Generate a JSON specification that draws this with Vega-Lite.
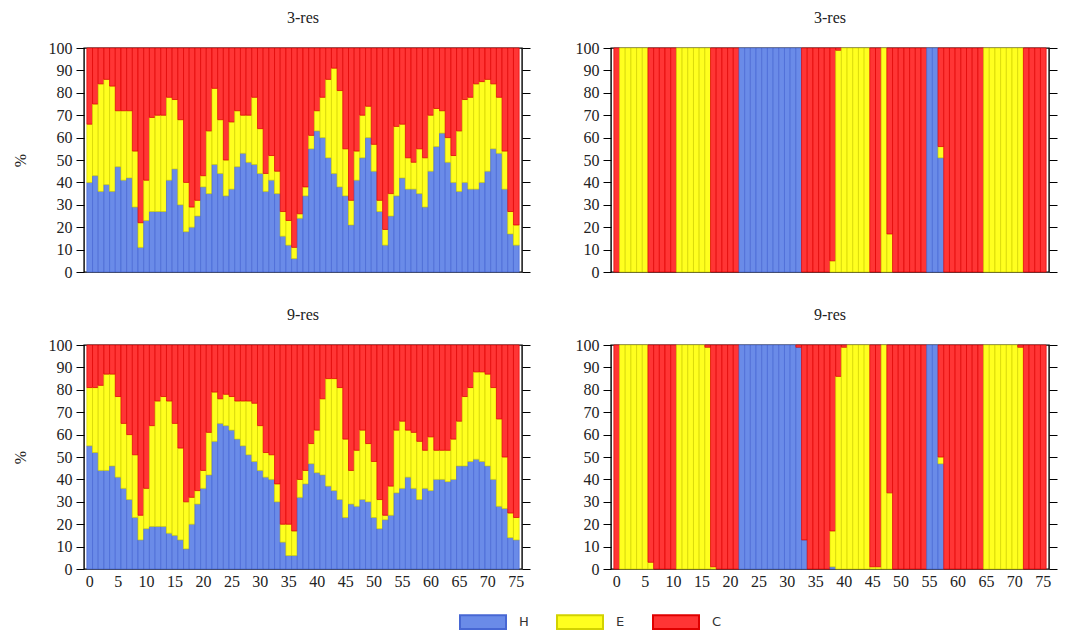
{
"$schema": "https://vega.github.io/schema/vega-lite/v6.json",
"background": "white",
"padding": {"left": 11, "top": 9, "right": 5, "bottom": 5},
"datasets": {"d": [
{"p":"TL","i":0,"H":40,"E":26,"C":34},{"p":"TL","i":1,"H":43,"E":32,"C":25},{"p":"TL","i":2,"H":36,"E":48,"C":16},{"p":"TL","i":3,"H":39,"E":47,"C":14},{"p":"TL","i":4,"H":36,"E":47,"C":17},{"p":"TL","i":5,"H":47,"E":25,"C":28},{"p":"TL","i":6,"H":41,"E":31,"C":28},{"p":"TL","i":7,"H":42,"E":30,"C":28},{"p":"TL","i":8,"H":29,"E":25,"C":46},{"p":"TL","i":9,"H":11,"E":11,"C":78},
{"p":"TL","i":10,"H":23,"E":18,"C":59},{"p":"TL","i":11,"H":27,"E":42,"C":31},{"p":"TL","i":12,"H":27,"E":43,"C":30},{"p":"TL","i":13,"H":27,"E":43,"C":30},{"p":"TL","i":14,"H":41,"E":37,"C":22},{"p":"TL","i":15,"H":46,"E":31,"C":23},{"p":"TL","i":16,"H":30,"E":38,"C":32},{"p":"TL","i":17,"H":18,"E":22,"C":60},{"p":"TL","i":18,"H":20,"E":9,"C":71},{"p":"TL","i":19,"H":25,"E":7,"C":68},
{"p":"TL","i":20,"H":38,"E":5,"C":57},{"p":"TL","i":21,"H":35,"E":28,"C":37},{"p":"TL","i":22,"H":48,"E":34,"C":18},{"p":"TL","i":23,"H":44,"E":24,"C":32},{"p":"TL","i":24,"H":34,"E":16,"C":50},{"p":"TL","i":25,"H":37,"E":30,"C":33},{"p":"TL","i":26,"H":47,"E":25,"C":28},{"p":"TL","i":27,"H":53,"E":17,"C":30},{"p":"TL","i":28,"H":49,"E":21,"C":30},{"p":"TL","i":29,"H":48,"E":30,"C":22},
{"p":"TL","i":30,"H":44,"E":20,"C":36},{"p":"TL","i":31,"H":36,"E":8,"C":56},{"p":"TL","i":32,"H":41,"E":11,"C":48},{"p":"TL","i":33,"H":35,"E":10,"C":55},{"p":"TL","i":34,"H":16,"E":11,"C":73},{"p":"TL","i":35,"H":12,"E":11,"C":77},{"p":"TL","i":36,"H":6,"E":5,"C":89},{"p":"TL","i":37,"H":24,"E":2,"C":74},{"p":"TL","i":38,"H":34,"E":4,"C":62},{"p":"TL","i":39,"H":55,"E":6,"C":39},
{"p":"TL","i":40,"H":63,"E":9,"C":28},{"p":"TL","i":41,"H":60,"E":18,"C":22},{"p":"TL","i":42,"H":51,"E":35,"C":14},{"p":"TL","i":43,"H":44,"E":47,"C":9},{"p":"TL","i":44,"H":38,"E":43,"C":19},{"p":"TL","i":45,"H":34,"E":21,"C":45},{"p":"TL","i":46,"H":21,"E":11,"C":68},{"p":"TL","i":47,"H":41,"E":13,"C":46},{"p":"TL","i":48,"H":51,"E":19,"C":30},{"p":"TL","i":49,"H":60,"E":14,"C":26},
{"p":"TL","i":50,"H":45,"E":12,"C":43},{"p":"TL","i":51,"H":27,"E":5,"C":68},{"p":"TL","i":52,"H":12,"E":7,"C":81},{"p":"TL","i":53,"H":25,"E":10,"C":65},{"p":"TL","i":54,"H":34,"E":31,"C":35},{"p":"TL","i":55,"H":42,"E":24,"C":34},{"p":"TL","i":56,"H":37,"E":14,"C":49},{"p":"TL","i":57,"H":37,"E":12,"C":51},{"p":"TL","i":58,"H":35,"E":20,"C":45},{"p":"TL","i":59,"H":29,"E":22,"C":49},
{"p":"TL","i":60,"H":45,"E":25,"C":30},{"p":"TL","i":61,"H":56,"E":17,"C":27},{"p":"TL","i":62,"H":62,"E":10,"C":28},{"p":"TL","i":63,"H":49,"E":11,"C":40},{"p":"TL","i":64,"H":40,"E":12,"C":48},{"p":"TL","i":65,"H":36,"E":27,"C":37},{"p":"TL","i":66,"H":40,"E":37,"C":23},{"p":"TL","i":67,"H":37,"E":41,"C":22},{"p":"TL","i":68,"H":37,"E":47,"C":16},{"p":"TL","i":69,"H":40,"E":45,"C":15},
{"p":"TL","i":70,"H":45,"E":41,"C":14},{"p":"TL","i":71,"H":55,"E":29,"C":16},{"p":"TL","i":72,"H":53,"E":25,"C":22},{"p":"TL","i":73,"H":37,"E":17,"C":46},{"p":"TL","i":74,"H":17,"E":10,"C":73},{"p":"TL","i":75,"H":12,"E":9,"C":79},
{"p":"BL","i":0,"H":55,"E":26,"C":19},{"p":"BL","i":1,"H":52,"E":29,"C":19},{"p":"BL","i":2,"H":44,"E":38,"C":18},{"p":"BL","i":3,"H":44,"E":43,"C":13},{"p":"BL","i":4,"H":46,"E":41,"C":13},{"p":"BL","i":5,"H":41,"E":36,"C":23},{"p":"BL","i":6,"H":36,"E":29,"C":35},{"p":"BL","i":7,"H":31,"E":29,"C":40},{"p":"BL","i":8,"H":23,"E":28,"C":49},{"p":"BL","i":9,"H":13,"E":11,"C":76},
{"p":"BL","i":10,"H":18,"E":18,"C":64},{"p":"BL","i":11,"H":19,"E":45,"C":36},{"p":"BL","i":12,"H":19,"E":56,"C":25},{"p":"BL","i":13,"H":19,"E":58,"C":23},{"p":"BL","i":14,"H":16,"E":59,"C":25},{"p":"BL","i":15,"H":15,"E":50,"C":35},{"p":"BL","i":16,"H":13,"E":41,"C":46},{"p":"BL","i":17,"H":9,"E":21,"C":70},{"p":"BL","i":18,"H":20,"E":12,"C":68},{"p":"BL","i":19,"H":29,"E":6,"C":65},
{"p":"BL","i":20,"H":36,"E":8,"C":56},{"p":"BL","i":21,"H":42,"E":19,"C":39},{"p":"BL","i":22,"H":57,"E":22,"C":21},{"p":"BL","i":23,"H":65,"E":11,"C":24},{"p":"BL","i":24,"H":64,"E":14,"C":22},{"p":"BL","i":25,"H":62,"E":15,"C":23},{"p":"BL","i":26,"H":58,"E":17,"C":25},{"p":"BL","i":27,"H":55,"E":20,"C":25},{"p":"BL","i":28,"H":51,"E":24,"C":25},{"p":"BL","i":29,"H":48,"E":26,"C":26},
{"p":"BL","i":30,"H":44,"E":20,"C":36},{"p":"BL","i":31,"H":41,"E":11,"C":48},{"p":"BL","i":32,"H":40,"E":11,"C":49},{"p":"BL","i":33,"H":30,"E":8,"C":62},{"p":"BL","i":34,"H":12,"E":8,"C":80},{"p":"BL","i":35,"H":6,"E":14,"C":80},{"p":"BL","i":36,"H":6,"E":11,"C":83},{"p":"BL","i":37,"H":32,"E":8,"C":60},{"p":"BL","i":38,"H":38,"E":6,"C":56},{"p":"BL","i":39,"H":47,"E":9,"C":44},
{"p":"BL","i":40,"H":43,"E":19,"C":38},{"p":"BL","i":41,"H":42,"E":34,"C":24},{"p":"BL","i":42,"H":37,"E":48,"C":15},{"p":"BL","i":43,"H":35,"E":50,"C":15},{"p":"BL","i":44,"H":31,"E":50,"C":19},{"p":"BL","i":45,"H":23,"E":35,"C":42},{"p":"BL","i":46,"H":29,"E":15,"C":56},{"p":"BL","i":47,"H":28,"E":25,"C":47},{"p":"BL","i":48,"H":31,"E":31,"C":38},{"p":"BL","i":49,"H":30,"E":26,"C":44},
{"p":"BL","i":50,"H":23,"E":25,"C":52},{"p":"BL","i":51,"H":18,"E":13,"C":69},{"p":"BL","i":52,"H":22,"E":2,"C":76},{"p":"BL","i":53,"H":24,"E":13,"C":63},{"p":"BL","i":54,"H":34,"E":28,"C":38},{"p":"BL","i":55,"H":36,"E":30,"C":34},{"p":"BL","i":56,"H":41,"E":21,"C":38},{"p":"BL","i":57,"H":36,"E":25,"C":39},{"p":"BL","i":58,"H":31,"E":26,"C":43},{"p":"BL","i":59,"H":36,"E":17,"C":47},
{"p":"BL","i":60,"H":35,"E":24,"C":41},{"p":"BL","i":61,"H":40,"E":13,"C":47},{"p":"BL","i":62,"H":40,"E":13,"C":47},{"p":"BL","i":63,"H":39,"E":14,"C":47},{"p":"BL","i":64,"H":40,"E":18,"C":42},{"p":"BL","i":65,"H":46,"E":20,"C":34},{"p":"BL","i":66,"H":46,"E":31,"C":23},{"p":"BL","i":67,"H":48,"E":33,"C":19},{"p":"BL","i":68,"H":49,"E":39,"C":12},{"p":"BL","i":69,"H":48,"E":40,"C":12},
{"p":"BL","i":70,"H":46,"E":41,"C":13},{"p":"BL","i":71,"H":40,"E":41,"C":19},{"p":"BL","i":72,"H":28,"E":39,"C":33},{"p":"BL","i":73,"H":27,"E":23,"C":50},{"p":"BL","i":74,"H":14,"E":11,"C":75},{"p":"BL","i":75,"H":13,"E":10,"C":77},
{"p":"TR","i":0,"H":0,"E":0,"C":100},{"p":"TR","i":1,"H":0,"E":100,"C":0},{"p":"TR","i":2,"H":0,"E":100,"C":0},{"p":"TR","i":3,"H":0,"E":100,"C":0},{"p":"TR","i":4,"H":0,"E":100,"C":0},{"p":"TR","i":5,"H":0,"E":100,"C":0},{"p":"TR","i":6,"H":0,"E":0,"C":100},{"p":"TR","i":7,"H":0,"E":0,"C":100},{"p":"TR","i":8,"H":0,"E":0,"C":100},{"p":"TR","i":9,"H":0,"E":0,"C":100},
{"p":"TR","i":10,"H":0,"E":0,"C":100},{"p":"TR","i":11,"H":0,"E":100,"C":0},{"p":"TR","i":12,"H":0,"E":100,"C":0},{"p":"TR","i":13,"H":0,"E":100,"C":0},{"p":"TR","i":14,"H":0,"E":100,"C":0},{"p":"TR","i":15,"H":0,"E":100,"C":0},{"p":"TR","i":16,"H":0,"E":100,"C":0},{"p":"TR","i":17,"H":0,"E":0,"C":100},{"p":"TR","i":18,"H":0,"E":0,"C":100},{"p":"TR","i":19,"H":0,"E":0,"C":100},
{"p":"TR","i":20,"H":0,"E":0,"C":100},{"p":"TR","i":21,"H":0,"E":0,"C":100},{"p":"TR","i":22,"H":100,"E":0,"C":0},{"p":"TR","i":23,"H":100,"E":0,"C":0},{"p":"TR","i":24,"H":100,"E":0,"C":0},{"p":"TR","i":25,"H":100,"E":0,"C":0},{"p":"TR","i":26,"H":100,"E":0,"C":0},{"p":"TR","i":27,"H":100,"E":0,"C":0},{"p":"TR","i":28,"H":100,"E":0,"C":0},{"p":"TR","i":29,"H":100,"E":0,"C":0},
{"p":"TR","i":30,"H":100,"E":0,"C":0},{"p":"TR","i":31,"H":100,"E":0,"C":0},{"p":"TR","i":32,"H":100,"E":0,"C":0},{"p":"TR","i":33,"H":0,"E":0,"C":100},{"p":"TR","i":34,"H":0,"E":0,"C":100},{"p":"TR","i":35,"H":0,"E":0,"C":100},{"p":"TR","i":36,"H":0,"E":0,"C":100},{"p":"TR","i":37,"H":0,"E":0,"C":100},{"p":"TR","i":38,"H":0,"E":5,"C":95},{"p":"TR","i":39,"H":0,"E":99,"C":1},
{"p":"TR","i":40,"H":0,"E":100,"C":0},{"p":"TR","i":41,"H":0,"E":100,"C":0},{"p":"TR","i":42,"H":0,"E":100,"C":0},{"p":"TR","i":43,"H":0,"E":100,"C":0},{"p":"TR","i":44,"H":0,"E":100,"C":0},{"p":"TR","i":45,"H":0,"E":0,"C":100},{"p":"TR","i":46,"H":0,"E":0,"C":100},{"p":"TR","i":47,"H":0,"E":100,"C":0},{"p":"TR","i":48,"H":0,"E":17,"C":83},{"p":"TR","i":49,"H":0,"E":0,"C":100},
{"p":"TR","i":50,"H":0,"E":0,"C":100},{"p":"TR","i":51,"H":0,"E":0,"C":100},{"p":"TR","i":52,"H":0,"E":0,"C":100},{"p":"TR","i":53,"H":0,"E":0,"C":100},{"p":"TR","i":54,"H":0,"E":0,"C":100},{"p":"TR","i":55,"H":100,"E":0,"C":0},{"p":"TR","i":56,"H":100,"E":0,"C":0},{"p":"TR","i":57,"H":51,"E":5,"C":44},{"p":"TR","i":58,"H":0,"E":0,"C":100},{"p":"TR","i":59,"H":0,"E":0,"C":100},
{"p":"TR","i":60,"H":0,"E":0,"C":100},{"p":"TR","i":61,"H":0,"E":0,"C":100},{"p":"TR","i":62,"H":0,"E":0,"C":100},{"p":"TR","i":63,"H":0,"E":0,"C":100},{"p":"TR","i":64,"H":0,"E":0,"C":100},{"p":"TR","i":65,"H":0,"E":100,"C":0},{"p":"TR","i":66,"H":0,"E":100,"C":0},{"p":"TR","i":67,"H":0,"E":100,"C":0},{"p":"TR","i":68,"H":0,"E":100,"C":0},{"p":"TR","i":69,"H":0,"E":100,"C":0},
{"p":"TR","i":70,"H":0,"E":100,"C":0},{"p":"TR","i":71,"H":0,"E":100,"C":0},{"p":"TR","i":72,"H":0,"E":0,"C":100},{"p":"TR","i":73,"H":0,"E":0,"C":100},{"p":"TR","i":74,"H":0,"E":0,"C":100},{"p":"TR","i":75,"H":0,"E":0,"C":100},
{"p":"BR","i":0,"H":0,"E":0,"C":100},{"p":"BR","i":1,"H":0,"E":100,"C":0},{"p":"BR","i":2,"H":0,"E":100,"C":0},{"p":"BR","i":3,"H":0,"E":100,"C":0},{"p":"BR","i":4,"H":0,"E":100,"C":0},{"p":"BR","i":5,"H":0,"E":100,"C":0},{"p":"BR","i":6,"H":0,"E":3,"C":97},{"p":"BR","i":7,"H":0,"E":0,"C":100},{"p":"BR","i":8,"H":0,"E":0,"C":100},{"p":"BR","i":9,"H":0,"E":0,"C":100},
{"p":"BR","i":10,"H":0,"E":0,"C":100},{"p":"BR","i":11,"H":0,"E":100,"C":0},{"p":"BR","i":12,"H":0,"E":100,"C":0},{"p":"BR","i":13,"H":0,"E":100,"C":0},{"p":"BR","i":14,"H":0,"E":100,"C":0},{"p":"BR","i":15,"H":0,"E":100,"C":0},{"p":"BR","i":16,"H":0,"E":99,"C":1},{"p":"BR","i":17,"H":0,"E":1,"C":99},{"p":"BR","i":18,"H":0,"E":0,"C":100},{"p":"BR","i":19,"H":0,"E":0,"C":100},
{"p":"BR","i":20,"H":0,"E":0,"C":100},{"p":"BR","i":21,"H":0,"E":0,"C":100},{"p":"BR","i":22,"H":100,"E":0,"C":0},{"p":"BR","i":23,"H":100,"E":0,"C":0},{"p":"BR","i":24,"H":100,"E":0,"C":0},{"p":"BR","i":25,"H":100,"E":0,"C":0},{"p":"BR","i":26,"H":100,"E":0,"C":0},{"p":"BR","i":27,"H":100,"E":0,"C":0},{"p":"BR","i":28,"H":100,"E":0,"C":0},{"p":"BR","i":29,"H":100,"E":0,"C":0},
{"p":"BR","i":30,"H":100,"E":0,"C":0},{"p":"BR","i":31,"H":100,"E":0,"C":0},{"p":"BR","i":32,"H":99,"E":0,"C":1},{"p":"BR","i":33,"H":13,"E":0,"C":87},{"p":"BR","i":34,"H":0,"E":0,"C":100},{"p":"BR","i":35,"H":0,"E":0,"C":100},{"p":"BR","i":36,"H":0,"E":0,"C":100},{"p":"BR","i":37,"H":0,"E":0,"C":100},{"p":"BR","i":38,"H":1,"E":16,"C":83},{"p":"BR","i":39,"H":0,"E":86,"C":14},
{"p":"BR","i":40,"H":0,"E":99,"C":1},{"p":"BR","i":41,"H":0,"E":100,"C":0},{"p":"BR","i":42,"H":0,"E":100,"C":0},{"p":"BR","i":43,"H":0,"E":100,"C":0},{"p":"BR","i":44,"H":0,"E":100,"C":0},{"p":"BR","i":45,"H":0,"E":1,"C":99},{"p":"BR","i":46,"H":0,"E":1,"C":99},{"p":"BR","i":47,"H":0,"E":100,"C":0},{"p":"BR","i":48,"H":0,"E":34,"C":66},{"p":"BR","i":49,"H":0,"E":0,"C":100},
{"p":"BR","i":50,"H":0,"E":0,"C":100},{"p":"BR","i":51,"H":0,"E":0,"C":100},{"p":"BR","i":52,"H":0,"E":0,"C":100},{"p":"BR","i":53,"H":0,"E":0,"C":100},{"p":"BR","i":54,"H":0,"E":0,"C":100},{"p":"BR","i":55,"H":100,"E":0,"C":0},{"p":"BR","i":56,"H":100,"E":0,"C":0},{"p":"BR","i":57,"H":47,"E":3,"C":50},{"p":"BR","i":58,"H":0,"E":0,"C":100},{"p":"BR","i":59,"H":0,"E":0,"C":100},
{"p":"BR","i":60,"H":0,"E":0,"C":100},{"p":"BR","i":61,"H":0,"E":0,"C":100},{"p":"BR","i":62,"H":0,"E":0,"C":100},{"p":"BR","i":63,"H":0,"E":0,"C":100},{"p":"BR","i":64,"H":0,"E":0,"C":100},{"p":"BR","i":65,"H":0,"E":100,"C":0},{"p":"BR","i":66,"H":0,"E":100,"C":0},{"p":"BR","i":67,"H":0,"E":100,"C":0},{"p":"BR","i":68,"H":0,"E":100,"C":0},{"p":"BR","i":69,"H":0,"E":100,"C":0},
{"p":"BR","i":70,"H":0,"E":100,"C":0},{"p":"BR","i":71,"H":0,"E":99,"C":1},{"p":"BR","i":72,"H":0,"E":0,"C":100},{"p":"BR","i":73,"H":0,"E":0,"C":100},{"p":"BR","i":74,"H":0,"E":0,"C":100},{"p":"BR","i":75,"H":0,"E":0,"C":100}
]},
"data": {"name": "d"},
"transform": [{"fold": ["H", "E", "C"], "as": ["s", "v"]}, {"filter": "datum.v > 0"}],
"config": {
  "view": {"stroke": "#000", "strokeWidth": 1.4},
  "axis": {"labelFont": "Liberation Serif", "labelFontSize": 16, "labelColor": "#222", "domainColor": "#000", "tickColor": "#000", "grid": false, "titleFont": "Liberation Serif", "titleFontWeight": "normal", "titleFontSize": 16, "titleColor": "#222"},
  "title": {"font": "Liberation Serif", "fontSize": 16, "fontWeight": "normal", "color": "#222", "offset": 14},
  "legend": {"orient": "none", "legendX": 375, "legendY": 550, "direction": "horizontal", "symbolType": "M-1,-0.3H1V0.3H-1Z", "symbolSize": 2116, "symbolStrokeWidth": 2, "labelFont": "DejaVu Sans", "labelFontSize": 13, "labelColor": "#333", "columnPadding": 24, "labelOffset": 12}
},
"resolve": {"scale": {"color": "shared", "stroke": "shared"}, "legend": {"color": "shared", "stroke": "shared"}},
"spacing": 25,
"vconcat": [
 {"hconcat": [
  {"width": 438, "height": 224, "title": "3-res", "transform": [{"filter": "datum.p === 'TL'"}],
   "layer": [
    {"mark": {"type": "bar", "strokeWidth": 0.7},
     "encoding": {
      "x": {"field": "i", "type": "ordinal", "scale": {"paddingInner": 0, "paddingOuter": 0.5}, "axis": null},
      "y": {"field": "v", "type": "quantitative", "stack": "zero", "scale": {"domain": [0, 100], "nice": false}, "axis": {"values": [0,10,20,30,40,50,60,70,80,90,100], "tickSize": 8, "labelPadding": 4, "domain": false, "title": "%", "titlePadding": 20}},
      "color": {"field": "s", "type": "nominal", "scale": {"domain": ["H","E","C"], "range": ["#6a8be8", "#ffff1f", "#ff3535"]}, "legend": {"title": null}},
      "stroke": {"field": "s", "type": "nominal", "scale": {"domain": ["H","E","C"], "range": ["#4767d4", "#d2d200", "#e00000"]}, "legend": {"title": null}},
      "order": {"field": "s", "sort": "descending"}
     }},
    {"mark": {"type": "bar", "opacity": 0},
     "encoding": {
      "x": {"field": "i", "type": "ordinal", "scale": {"paddingInner": 0, "paddingOuter": 0.5}, "axis": null},
      "y": {"field": "v", "type": "quantitative", "stack": "zero", "axis": {"orient": "right", "values": [0,10,20,30,40,50,60,70,80,90,100], "tickSize": 8, "labels": false, "domain": false, "title": null}}
     }}
   ],
   "resolve": {"axis": {"y": "independent"}}},
  {"width": 438, "height": 224, "title": "3-res", "transform": [{"filter": "datum.p === 'TR'"}],
   "layer": [
    {"mark": {"type": "bar", "strokeWidth": 0.7},
     "encoding": {
      "x": {"field": "i", "type": "ordinal", "scale": {"paddingInner": 0, "paddingOuter": 0.5}, "axis": null},
      "y": {"field": "v", "type": "quantitative", "stack": "zero", "scale": {"domain": [0, 100], "nice": false}, "axis": {"values": [0,10,20,30,40,50,60,70,80,90,100], "tickSize": 8, "labelPadding": 4, "domain": false, "title": null}},
      "color": {"field": "s", "type": "nominal", "scale": {"domain": ["H","E","C"], "range": ["#6a8be8", "#ffff1f", "#ff3535"]}, "legend": {"title": null}},
      "stroke": {"field": "s", "type": "nominal", "scale": {"domain": ["H","E","C"], "range": ["#4767d4", "#d2d200", "#e00000"]}, "legend": {"title": null}},
      "order": {"field": "s", "sort": "descending"}
     }},
    {"mark": {"type": "bar", "opacity": 0},
     "encoding": {
      "x": {"field": "i", "type": "ordinal", "scale": {"paddingInner": 0, "paddingOuter": 0.5}, "axis": null},
      "y": {"field": "v", "type": "quantitative", "stack": "zero", "axis": {"orient": "right", "values": [0,10,20,30,40,50,60,70,80,90,100], "tickSize": 8, "labels": false, "domain": false, "title": null}}
     }}
   ],
   "resolve": {"axis": {"y": "independent"}}}
 ], "spacing": 42},
 {"hconcat": [
  {"width": 438, "height": 224, "title": "9-res", "transform": [{"filter": "datum.p === 'BL'"}],
   "layer": [
    {"mark": {"type": "bar", "strokeWidth": 0.7},
     "encoding": {
      "x": {"field": "i", "type": "ordinal", "scale": {"paddingInner": 0, "paddingOuter": 0.5}, "axis": {"values": [0,5,10,15,20,25,30,35,40,45,50,55,60,65,70,75], "labelAngle": 0, "ticks": false, "domain": false, "labelPadding": 4, "title": null}},
      "y": {"field": "v", "type": "quantitative", "stack": "zero", "scale": {"domain": [0, 100], "nice": false}, "axis": {"values": [0,10,20,30,40,50,60,70,80,90,100], "tickSize": 8, "labelPadding": 4, "domain": false, "title": "%", "titlePadding": 20}},
      "color": {"field": "s", "type": "nominal", "scale": {"domain": ["H","E","C"], "range": ["#6a8be8", "#ffff1f", "#ff3535"]}, "legend": {"title": null}},
      "stroke": {"field": "s", "type": "nominal", "scale": {"domain": ["H","E","C"], "range": ["#4767d4", "#d2d200", "#e00000"]}, "legend": {"title": null}},
      "order": {"field": "s", "sort": "descending"}
     }},
    {"mark": {"type": "bar", "opacity": 0},
     "encoding": {
      "x": {"field": "i", "type": "ordinal", "scale": {"paddingInner": 0, "paddingOuter": 0.5}},
      "y": {"field": "v", "type": "quantitative", "stack": "zero", "axis": {"orient": "right", "values": [0,10,20,30,40,50,60,70,80,90,100], "tickSize": 8, "labels": false, "domain": false, "title": null}}
     }}
   ],
   "resolve": {"axis": {"y": "independent"}}},
  {"width": 438, "height": 224, "title": "9-res", "transform": [{"filter": "datum.p === 'BR'"}],
   "layer": [
    {"mark": {"type": "bar", "strokeWidth": 0.7},
     "encoding": {
      "x": {"field": "i", "type": "ordinal", "scale": {"paddingInner": 0, "paddingOuter": 0.5}, "axis": {"values": [0,5,10,15,20,25,30,35,40,45,50,55,60,65,70,75], "labelAngle": 0, "ticks": false, "domain": false, "labelPadding": 4, "title": null}},
      "y": {"field": "v", "type": "quantitative", "stack": "zero", "scale": {"domain": [0, 100], "nice": false}, "axis": {"values": [0,10,20,30,40,50,60,70,80,90,100], "tickSize": 8, "labelPadding": 4, "domain": false, "title": null}},
      "color": {"field": "s", "type": "nominal", "scale": {"domain": ["H","E","C"], "range": ["#6a8be8", "#ffff1f", "#ff3535"]}, "legend": {"title": null}},
      "stroke": {"field": "s", "type": "nominal", "scale": {"domain": ["H","E","C"], "range": ["#4767d4", "#d2d200", "#e00000"]}, "legend": {"title": null}},
      "order": {"field": "s", "sort": "descending"}
     }},
    {"mark": {"type": "bar", "opacity": 0},
     "encoding": {
      "x": {"field": "i", "type": "ordinal", "scale": {"paddingInner": 0, "paddingOuter": 0.5}},
      "y": {"field": "v", "type": "quantitative", "stack": "zero", "axis": {"orient": "right", "values": [0,10,20,30,40,50,60,70,80,90,100], "tickSize": 8, "labels": false, "domain": false, "title": null}}
     }}
   ],
   "resolve": {"axis": {"y": "independent"}}}
 ], "spacing": 42}
]
}
